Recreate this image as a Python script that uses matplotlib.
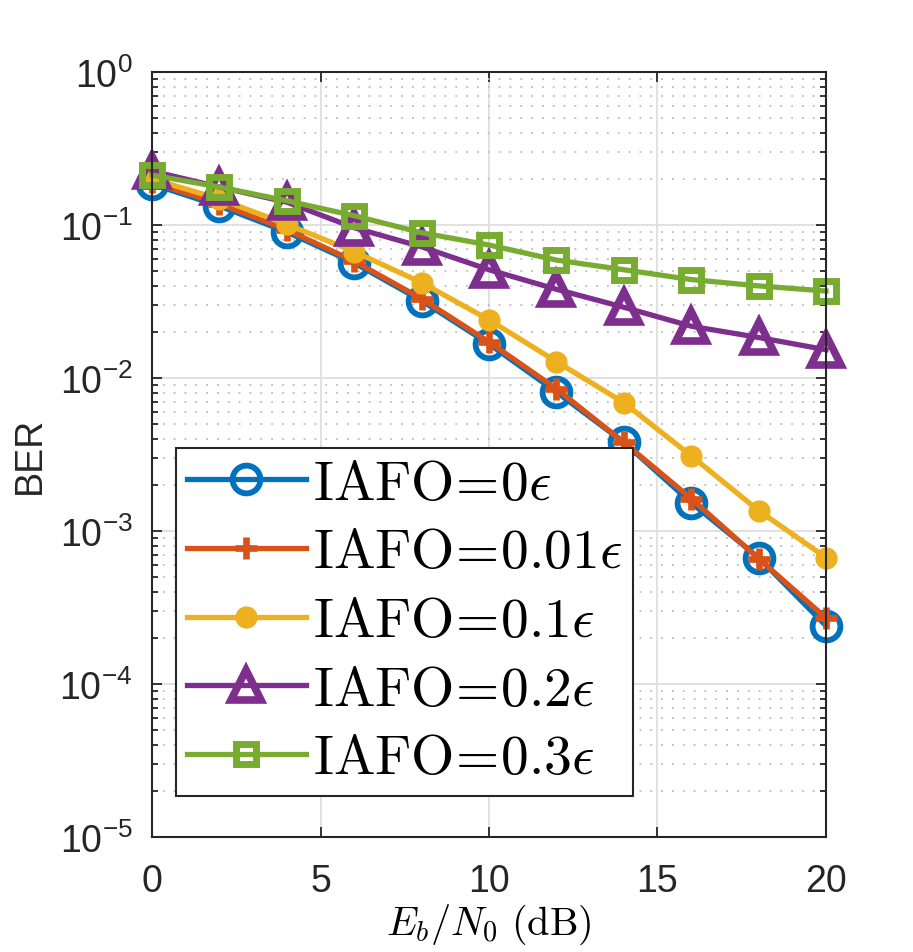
import numpy as np
import matplotlib
matplotlib.use("Agg")
import matplotlib.pyplot as plt
from matplotlib.font_manager import FontProperties
from matplotlib.ticker import LogLocator, NullFormatter, FixedLocator

plt.rcParams["font.family"] = ["Liberation Sans", "DejaVu Sans"]
plt.rcParams["mathtext.fontset"] = "custom"
plt.rcParams["mathtext.rm"] = "Liberation Sans"
plt.rcParams["mathtext.it"] = "Liberation Sans:italic"
plt.rcParams["axes.unicode_minus"] = False

# Eb/N0 in dB
ebn0 = [0, 2, 4, 6, 8, 10, 12, 14, 16, 18, 20]

ber_0 = [0.185, 0.133, 0.090, 0.0565, 0.032, 0.0167, 0.0081, 0.0038, 0.00153, 0.00067, 0.00024]
ber_001 = [0.19, 0.138, 0.093, 0.058, 0.033, 0.0172, 0.0085, 0.0038, 0.00163, 0.00066, 0.00027]
ber_01 = [0.20, 0.148, 0.101, 0.067, 0.042, 0.024, 0.0128, 0.0069, 0.0031, 0.00136, 0.00067]
ber_02 = [0.225, 0.177, 0.141, 0.096, 0.072, 0.051, 0.038, 0.029, 0.0218, 0.0184, 0.0153]
ber_03 = [0.212, 0.177, 0.144, 0.115, 0.089, 0.074, 0.059, 0.051, 0.044, 0.040, 0.037]

labels = [r"$\mathrm{IAFO}\!=\!0\epsilon$", r"$\mathrm{IAFO}\!=\!0.01\epsilon$",
          r"$\mathrm{IAFO}\!=\!0.1\epsilon$", r"$\mathrm{IAFO}\!=\!0.2\epsilon$",
          r"$\mathrm{IAFO}\!=\!0.3\epsilon$"]

fig = plt.figure(figsize=(9.13, 9.53), dpi=100)
ax = fig.add_axes([0.1665, 0.1207, 0.7382, 0.8027])

lw = 3.8
ax.plot(ebn0, ber_0, color="#0072BD", lw=lw, marker="o", ms=20, mfc="none", mew=4.2,
        label=labels[0], clip_on=False)
ax.plot(ebn0, ber_001, color="#D95319", lw=lw, marker="+", ms=16, mew=4.8,
        label=labels[1], clip_on=False)
ax.plot(ebn0, ber_01, color="#EDB120", lw=lw, marker="o", ms=15, mfc="#EDB120", mew=1,
        label=labels[2], clip_on=False)
ax.plot(ebn0, ber_02, color="#7E2F8E", lw=lw, marker="^", ms=22, mfc="none", mew=5.5,
        label=labels[3], clip_on=False)
ax.plot(ebn0, ber_03, color="#77AC30", lw=lw, marker="s", ms=15, mfc="none", mew=5.0,
        label=labels[4], clip_on=False)

ax.set_yscale("log")
ax.set_xlim(0, 20)
ax.set_ylim(1e-5, 1)
ax.xaxis.set_major_locator(FixedLocator([0, 5, 10, 15, 20]))
ax.yaxis.set_major_locator(LogLocator(base=10, numticks=10))
ax.yaxis.set_minor_locator(LogLocator(base=10, subs=np.arange(2, 10), numticks=20))
ax.yaxis.set_minor_formatter(NullFormatter())

ax.grid(True, which="major", color="#dedede", lw=1.3, ls="-")
ax.grid(True, which="minor", axis="y", color="#bdbdbd", lw=1.3, ls=(0, (1, 5)))
ax.set_axisbelow(True)

for s in ax.spines.values():
    s.set_color("#262626")
    s.set_linewidth(1.5)
ax.tick_params(which="both", direction="in", top=True, right=True, colors="#262626",
               labelsize=27)
ax.tick_params(which="major", length=7, width=1.3)
ax.tick_params(which="minor", length=4, width=1.3)
ax.tick_params(axis="x", pad=19)
ax.tick_params(axis="y", pad=14)

ax.set_ylabel("BER", fontsize=27, color="#262626", labelpad=8)
ax.set_xlabel(r"$E_b/N_0\ \mathrm{(dB)}$", fontsize=29, math_fontfamily="cm", labelpad=2)

leg_font = FontProperties(size=40, math_fontfamily="cm")
leg = ax.legend(loc="lower left", bbox_to_anchor=(0.035, 0.053), prop=leg_font,
                frameon=True, fancybox=False, handlelength=2.15, handletextpad=0.12,
                borderpad=0.2, labelspacing=0.3, borderaxespad=0, markerscale=1.0)
leg.get_frame().set_edgecolor("#262626")
leg.get_frame().set_linewidth(1.5)
leg.get_frame().set_alpha(1)

fig.savefig("out.png", dpi=100)
